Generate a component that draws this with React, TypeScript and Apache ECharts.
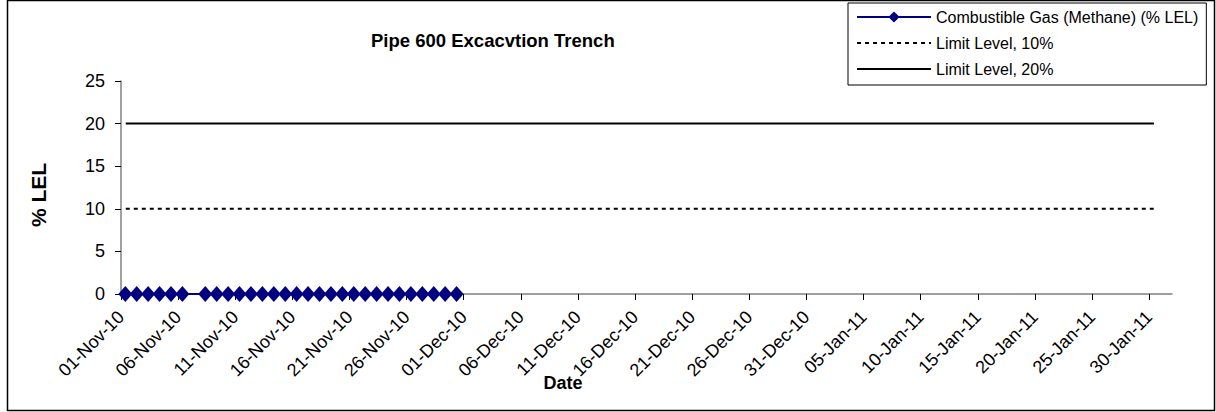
import React, { useEffect, useRef } from "react";
import * as echarts from "echarts";

const chartTitle = "Pipe 600 Excacvtion Trench";
const xAxisTitle = "Date";
const yAxisTitle = "% LEL";

const seriesNames = [
  "Combustible Gas (Methane) (% LEL)",
  "Limit Level, 10%",
  "Limit Level, 20%",
];

// Methane readings (date/time, % LEL)
const methaneDates = [
  "2010-11-01 09:00", "2010-11-02 09:00", "2010-11-03 09:00", "2010-11-04 09:00",
  "2010-11-05 09:00", "2010-11-06 09:00",
  "2010-11-08 09:00", "2010-11-09 09:00", "2010-11-10 09:00", "2010-11-11 09:00",
  "2010-11-12 09:00", "2010-11-13 09:00", "2010-11-14 09:00", "2010-11-15 09:00",
  "2010-11-16 09:00", "2010-11-17 09:00", "2010-11-18 09:00", "2010-11-19 09:00",
  "2010-11-20 09:00", "2010-11-21 09:00", "2010-11-22 09:00", "2010-11-23 09:00",
  "2010-11-24 09:00", "2010-11-25 09:00", "2010-11-26 09:00", "2010-11-27 09:00",
  "2010-11-28 09:00", "2010-11-29 09:00", "2010-11-30 09:00",
];
const methaneValues = [
  0, 0, 0, 0, 0, 0,
  0, 0, 0, 0, 0, 0, 0, 0, 0, 0, 0, 0, 0, 0, 0, 0, 0, 0, 0, 0, 0, 0, 0,
];

const limitDates = ["2010-11-01 10:00", "2011-01-30 10:00"];
const limit10Values = [10, 10];
const limit20Values = [20, 20];

const xAxisStart = "2010-11-01 00:00";
const xAxisEnd = "2011-02-01 00:00";
const xTickDates = [
  "2010-11-01", "2010-11-06", "2010-11-11", "2010-11-16", "2010-11-21", "2010-11-26",
  "2010-12-01", "2010-12-06", "2010-12-11", "2010-12-16", "2010-12-21", "2010-12-26",
  "2010-12-31", "2011-01-05", "2011-01-10", "2011-01-15", "2011-01-20", "2011-01-25",
  "2011-01-30",
];
const yTicks = [0, 5, 10, 15, 20, 25];

const MONTHS = ["Jan", "Feb", "Mar", "Apr", "May", "Jun", "Jul", "Aug", "Sep", "Oct", "Nov", "Dec"];
const DAY_MS = 86400000;

function parseUTC(s: string): number {
  const [d, t] = s.split(" ");
  const [y, m, dd] = d.split("-").map(Number);
  let hh = 0, mm = 0;
  if (t) {
    const p = t.split(":").map(Number);
    hh = p[0];
    mm = p[1];
  }
  return Date.UTC(y, m - 1, dd, hh, mm);
}
const ORIGIN = parseUTC(xAxisStart);
const toDay = (s: string) => (parseUTC(s) - ORIGIN) / DAY_MS;

function fmtDate(v: number): string {
  const d = new Date(ORIGIN + Math.round(v * DAY_MS));
  const dd = String(d.getUTCDate()).padStart(2, "0");
  const yy = String(d.getUTCFullYear() % 100).padStart(2, "0");
  return `${dd}-${MONTHS[d.getUTCMonth()]}-${yy}`;
}

const FONT = "'Liberation Sans', Arial, Helvetica, sans-serif";

export default function App() {
  const ref = useRef<HTMLDivElement>(null);

  useEffect(() => {
    if (!ref.current) return;
    document.body.style.margin = "0";
    const chart = echarts.init(ref.current, undefined, { renderer: "svg" });
    const tickVals = xTickDates.map((s) => toDay(s));

    chart.setOption({
      animation: false,
      backgroundColor: "#ffffff",
      textStyle: { fontFamily: FONT },
      title: {
        text: chartTitle,
        left: 371,
        top: 31,
        padding: 0,
        textStyle: { fontFamily: FONT, fontSize: 18.5, fontWeight: "bold", color: "#000" },
      },
      legend: {
        left: 848,
        top: 3,
        orient: "vertical",
        backgroundColor: "#fff",
        borderColor: "#000",
        borderWidth: 1,
        padding: [6, 8, 8, 8],
        itemWidth: 74,
        itemHeight: 14,
        itemGap: 10,
        textStyle: { fontFamily: FONT, fontSize: 16, color: "#000" },
        data: seriesNames,
      },
      grid: { left: 121, right: 44, top: 81, bottom: 118, containLabel: false },
      xAxis: {
        type: "value",
        min: toDay(xAxisStart),
        max: toDay(xAxisEnd),
        splitLine: { show: false },
        axisLine: { show: true, lineStyle: { color: "#808080", width: 1.5 } },
        axisTick: {
          show: true,
          inside: false,
          length: 6,
          lineStyle: { color: "#000", width: 1 },
          customValues: tickVals,
        },
        axisLabel: {
          rotate: 45,
          margin: 20,
          fontSize: 18,
          color: "#000",
          fontFamily: FONT,
          customValues: tickVals,
          formatter: (v: number) => fmtDate(v),
        },
      },
      yAxis: {
        type: "value",
        min: 0,
        max: 25,
        interval: 5,
        splitLine: { show: false },
        axisLine: { show: true, lineStyle: { color: "#808080", width: 1.5 } },
        axisTick: { show: true, inside: false, length: 6, lineStyle: { color: "#000", width: 1 } },
        axisLabel: {
          margin: 16,
          fontSize: 18,
          color: "#000",
          fontFamily: FONT,
          customValues: yTicks,
        },
      },
      graphic: [
        {
          type: "rect",
          silent: true,
          shape: { x: 7.5, y: 0.5, width: 1207, height: 410 },
          style: { fill: "none", stroke: "#000", lineWidth: 1.5 },
          z: 100,
        },
        {
          type: "text",
          silent: true,
          x: 563,
          y: 383,
          style: {
            text: xAxisTitle,
            font: `bold 18px ${FONT}`,
            fill: "#000",
            textAlign: "center",
            textVerticalAlign: "middle",
          },
          z: 100,
        },
        {
          type: "text",
          silent: true,
          x: 38,
          y: 195,
          rotation: Math.PI / 2,
          style: {
            text: yAxisTitle,
            font: `bold 21px ${FONT}`,
            fill: "#000",
            textAlign: "center",
            textVerticalAlign: "middle",
          },
          z: 100,
        },
      ],
      series: [
        {
          name: seriesNames[0],
          type: "line",
          data: methaneDates.map((d, i) => [toDay(d), methaneValues[i]]),
          symbol: "diamond",
          symbolSize: [14, 16],
          showAllSymbol: true,
          color: "#000080",
          itemStyle: { color: "#000080" },
          lineStyle: { color: "#000080", width: 2 },
          z: 5,
        },
        {
          name: seriesNames[1],
          type: "line",
          data: limitDates.map((d, i) => [toDay(d), limit10Values[i]]),
          symbol: "none",
          color: "#000",
          itemStyle: { color: "#000", opacity: 0 },
          lineStyle: { color: "#000", width: 2, type: [4, 4] },
        },
        {
          name: seriesNames[2],
          type: "line",
          data: limitDates.map((d, i) => [toDay(d), limit20Values[i]]),
          symbol: "none",
          color: "#000",
          itemStyle: { color: "#000", opacity: 0 },
          lineStyle: { color: "#000", width: 2 },
        },
      ],
    });
    return () => chart.dispose();
  }, []);

  return (
    <div
      ref={ref}
      style={{ position: "absolute", left: 0, top: 0, width: 1216, height: 412 }}
    />
  );
}
